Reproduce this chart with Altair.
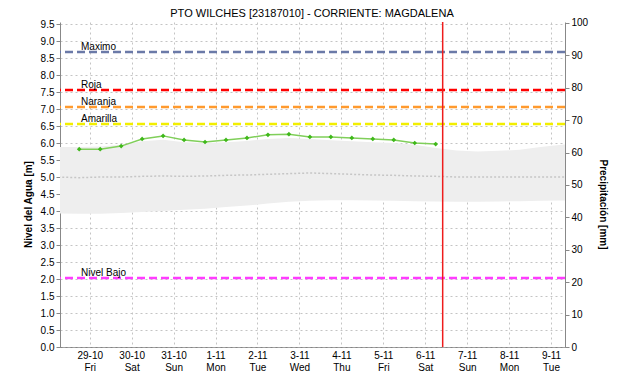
import altair as alt
import pandas as pd

# ---- data ----
title_text = "PTO WILCHES [23187010] - CORRIENTE: MAGDALENA"

level_times = pd.date_range("2021-10-28T18:00", periods=18, freq="12h")
level_values = [5.82, 5.82, 5.91, 6.12, 6.21, 6.09, 6.03, 6.09, 6.15, 6.24,
                6.26, 6.18, 6.18, 6.15, 6.12, 6.09, 6.00, 5.97]

band_times = pd.date_range("2021-10-28T06:00", periods=26, freq="12h")
band_top = [5.88, 5.88, 5.90, 5.95, 6.05, 6.10, 6.02, 6.00, 6.02, 6.06, 6.12, 6.15, 6.12,
            6.08, 6.05, 6.02, 6.00, 5.95, 5.85, 5.78, 5.75, 5.77, 5.80, 5.88, 5.95, 5.97]
band_bottom = [3.93, 3.92, 3.92, 3.94, 3.97, 4.00, 4.04, 4.07, 4.12, 4.16, 4.22, 4.27, 4.30,
               4.32, 4.32, 4.31, 4.30, 4.29, 4.28, 4.27, 4.27, 4.28, 4.29, 4.30, 4.31, 4.32]
band_median = [5.00, 4.98, 5.00, 5.00, 5.02, 5.03, 5.02, 5.03, 5.05, 5.06, 5.08, 5.10, 5.12,
               5.10, 5.08, 5.06, 5.05, 5.03, 5.02, 5.00, 5.00, 5.00, 5.00, 5.00, 5.00, 5.00]

threshold_names = ["Maximo", "Roja", "Naranja", "Amarilla", "Nivel Bajo"]
threshold_values = [8.68, 7.56, 7.06, 6.56, 2.03]
threshold_colors = ["#6b7aa8", "#ff0000", "#ff9a2e", "#f2ee00", "#ff3cff"]

now_time = "2021-11-06T10:00"
tick_dates = [f"2021-10-{d}" for d in (29, 30, 31)] + [f"2021-11-0{d}" for d in range(1, 10)]
left_ticks = [i * 0.5 for i in range(20)]
right_ticks = list(range(0, 101, 10))

FONT = "Liberation Sans"

level_df = pd.DataFrame({"t": level_times, "v": level_values})
band_df = pd.DataFrame({"t": band_times, "top": band_top, "bot": band_bottom, "med": band_median})
thr_df = pd.DataFrame({"name": threshold_names, "v": threshold_values})
now_df = pd.DataFrame({"t": [pd.Timestamp(now_time)]})
precip_df = pd.DataFrame({"t": [pd.Timestamp(now_time)], "p": [0]})
title_df = pd.DataFrame({"label": [title_text]})

x_scale = alt.Scale(domain=[alt.DateTime(year=2021, month=10, date=28, hours=7),
                            alt.DateTime(year=2021, month=11, date=9, hours=8)])
tick_vals = [alt.DateTime(year=int(s[0:4]), month=int(s[5:7]), date=int(s[8:10])) for s in tick_dates]

x_axis = alt.Axis(values=tick_vals, title=None, grid=True, gridDash=[2, 3], gridColor="#c4c4c4",
                  labelExpr="[timeFormat(datum.value, '%-d-%m'), timeFormat(datum.value, '%a')]",
                  labelLineHeight=12, labelBaseline="top", tickSize=0, labelPadding=3,
                  domainColor="#444444", domainDash=[1, 1], labelFontSize=10)


def ys():
    return alt.Scale(domain=[0, 9.56], nice=False, zero=False)


y_axis = alt.Axis(values=left_ticks, format=".1f", title="Nivel del Agua [m]", grid=True,
                  gridDash=[2, 3], gridColor="#c4c4c4", tickSize=4, labelPadding=2,
                  domainColor="#888888", tickColor="#888888", titlePadding=7,
                  titleFontWeight="bold", titleFontSize=10, labelFontSize=10, titleY=182)

band = alt.Chart(band_df).mark_area(color="#eeeeee", clip=True).encode(
    x=alt.X("t:T", scale=x_scale, axis=x_axis),
    y=alt.Y("bot:Q", scale=ys(), axis=y_axis),
    y2="top:Q",
)
median = alt.Chart(band_df).mark_line(color="#c6c6c6", strokeDash=[2, 2], strokeWidth=1.5, clip=True).encode(
    x="t:T", y=alt.Y("med:Q", scale=ys(), axis=None)
)
thr = alt.Chart(thr_df).mark_rule(strokeDash=[8, 4], strokeWidth=2.5).encode(
    y=alt.Y("v:Q", scale=ys(), axis=None),
    color=alt.Color("name:N", scale=alt.Scale(domain=threshold_names, range=threshold_colors), legend=None),
)
thr_text = alt.Chart(thr_df).mark_text(align="left", baseline="alphabetic", dy=-2, fontSize=10,
                                       font=FONT, color="#000000").encode(
    x=alt.value(21), y=alt.Y("v:Q", scale=ys(), axis=None), text="name:N"
)
line = alt.Chart(level_df).mark_line(color="#80cf5a", strokeWidth=1.5).encode(
    x="t:T", y=alt.Y("v:Q", scale=ys(), axis=None)
)
pts = alt.Chart(level_df).mark_point(shape="diamond", filled=True, color="#3fb81a", size=22, opacity=1).encode(
    x="t:T", y=alt.Y("v:Q", scale=ys(), axis=None)
)
now_rule = alt.Chart(now_df).mark_rule(color="#ee1c1c", strokeWidth=1.5).encode(x="t:T")

title_mark = alt.Chart(title_df).mark_text(align="center", baseline="middle", fontSize=11,
                                           font=FONT, color="#000000").encode(
    x=alt.value(252), y=alt.value(-8), text="label:N"
)

right = alt.Chart(precip_df).mark_point(opacity=0).encode(
    x="t:T",
    y=alt.Y("p:Q", scale=alt.Scale(domain=[0, 100.3], nice=False),
            axis=alt.Axis(orient="right", values=right_ticks, title="Precipitación [mm]", grid=False,
                          tickSize=4, labelPadding=2, domainColor="#888888", tickColor="#888888",
                          titlePadding=10, titleFontWeight="bold", titleFontSize=10, labelFontSize=10,
                          titleY=182)),
)

chart = alt.layer(band, median, thr, thr_text, line, pts, now_rule, title_mark, right).resolve_scale(
    y="independent"
).properties(
    width=505, height=325,
    autosize=alt.AutoSizeParams(type="none"),
    padding={"left": 52, "top": 14, "right": 45, "bottom": 32},
).configure_view(stroke=None).configure_axis(
    labelFont=FONT, titleFont=FONT, labelColor="#000000", titleColor="#000000"
)

chart.save("out.html", embed_options={"renderer": "svg", "actions": False})
